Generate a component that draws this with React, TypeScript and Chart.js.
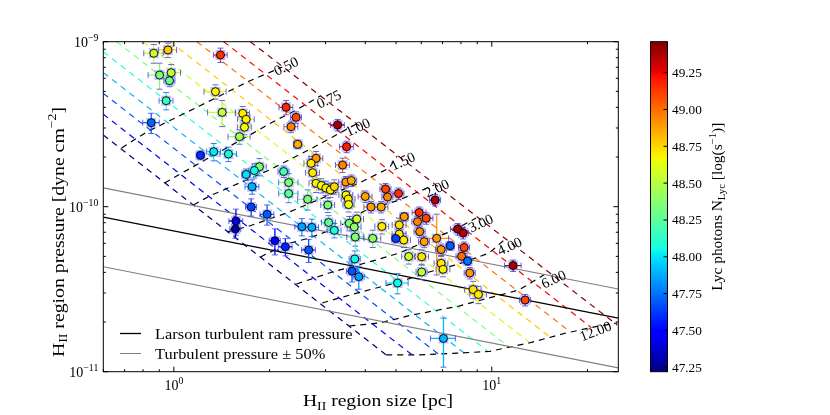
import React, { useEffect, useRef } from "react";
import { Chart, registerables } from "chart.js";

Chart.register(...registerables);

// ---------- observed HII regions ----------
// sizes in pc
const sizes = [
  0.865, 0.958, 1.402, 0.902, 0.981, 0.969, 0.946, 1.352, 0.849, 1.419,
  1.647, 1.688, 1.668, 1.609, 1.213, 1.335, 1.485, 2.254, 2.423, 2.337,
  2.452, 3.274, 3.494, 2.801, 2.701, 3.395, 2.733, 2.801, 2.91, 3.006,
  3.106, 3.197, 3.474, 3.615, 3.479, 3.537, 3.545, 1.859, 1.792, 1.688,
  1.763, 2.215, 2.297, 2.297, 2.636, 3.05, 1.751, 1.965, 1.568, 1.562,
  2.079, 2.243, 2.655, 2.527, 2.716, 3.068, 3.197, 3.563, 3.762, 3.694,
  3.721, 4.222, 4.513, 3.708, 3.634, 3.817, 5.053, 5.116, 5.116, 5.285,
  4.99, 5.48, 6.02, 6.02, 6.93, 7.03, 5.304, 5.912, 5.84, 6.22,
  5.934, 6.71, 6.13, 6.93, 7.4, 7.81, 8.125, 8.185, 8.04, 8.395,
  8.53, 8.735, 9.077, 11.67, 12.73, 7.047, 6.636, 5.09, 4.633, 4.7,
  4.0, 4.169, 4.489,
];
// pressures in units of 1e-10 dyne cm^-2
const pressures = [
  8.51, 8.91, 8.31, 6.28, 6.49, 5.8, 4.39, 4.98, 3.23, 3.73,
  3.68, 3.386, 3.03, 2.657, 2.049, 2.155, 2.086, 4.004, 3.48, 3.054,
  2.388, 3.127, 2.31, 1.965, 1.832, 1.789, 1.607, 1.386, 1.344, 1.298,
  1.263, 1.322, 1.411, 1.441, 1.177, 1.113, 1.031, 1.747, 1.657, 1.567,
  1.322, 1.634, 1.402, 1.202, 1.109, 1.024, 0.996, 0.899, 0.819, 0.732,
  0.622, 0.572, 0.5465, 0.756, 0.75, 0.802, 0.719, 0.793, 0.842, 0.753,
  0.655, 0.643, 0.759, 0.482, 0.4064, 0.3764, 0.3447, 0.775, 0.683, 0.628,
  0.642, 0.499, 0.4977, 0.402, 0.4539, 0.4175, 0.87, 0.922, 0.811, 0.851,
  0.706, 0.643, 0.6135, 0.55, 0.58, 0.732, 0.693, 0.566, 0.5005, 0.469,
  0.3964, 0.315, 0.2937, 0.44, 0.272, 0.159, 1.098, 1.202, 1.28, 1.145,
  1.153, 0.996, 0.996,
];
// log Lyman-continuum photon rate
const lycPhotons = [
  48.55, 48.78, 49.15, 48.36, 48.5, 48.3, 48.15, 48.68, 47.72, 48.52,
  48.7, 48.68, 48.65, 48.45, 47.6, 48.02, 48.05, 49.17, 49.08, 48.95,
  48.85, 49.4, 49.2, 48.9, 48.7, 48.95, 48.7, 48.68, 48.65, 48.7,
  48.68, 48.75, 48.9, 48.85, 48.68, 48.7, 48.65, 48.35, 48.05, 48.0,
  47.88, 48.18, 48.35, 48.25, 48.35, 48.35, 47.65, 47.7, 47.4, 47.3,
  47.5, 47.58, 47.7, 47.85, 47.88, 48.25, 48.08, 48.35, 48.55, 48.4,
  48.35, 48.4, 48.7, 48.05, 47.68, 47.85, 48.05, 48.72, 48.7, 48.7,
  47.65, 48.55, 48.72, 48.52, 48.7, 48.68, 48.88, 49.15, 48.95, 49.1,
  48.92, 48.9, 48.88, 48.9, 47.7, 49.38, 49.35, 49.1, 49.0, 47.75,
  48.9, 48.72, 48.7, 49.38, 49.1, 47.9, 49.38, 49.15, 49.1, 48.95,
  48.88, 48.88, 48.85,
];
// relative errors
const sizeErrFrac = [
  0.07, 0.065, 0.05, 0.08, 0.07, 0.04, 0.05, 0.08, 0.06, 0.1,
  0.05, 0.06, 0.05, 0.08, 0.03, 0.05, 0.06, 0.05, 0.04, 0.05,
  0.03, 0.05, 0.05, 0.05, 0.05, 0.05, 0.05, 0.05, 0.05, 0.05,
  0.05, 0.05, 0.05, 0.04, 0.05, 0.05, 0.04, 0.05, 0.04, 0.03,
  0.05, 0.04, 0.07, 0.07, 0.07, 0.05, 0.04, 0.05, 0.05, 0.04,
  0.04, 0.05, 0.05, 0.05, 0.05, 0.05, 0.05, 0.06, 0.05, 0.05,
  0.06, 0.06, 0.05, 0.04, 0.04, 0.04, 0.08, 0.05, 0.05, 0.05,
  0.03, 0.05, 0.05, 0.04, 0.05, 0.05, 0.03, 0.05, 0.04, 0.05,
  0.04, 0.09, 0.04, 0.04, 0.03, 0.05, 0.04, 0.04, 0.04, 0.03,
  0.04, 0.06, 0.06, 0.06, 0.04, 0.09, 0.04, 0.04, 0.04, 0.04,
  0.05, 0.05, 0.05,
];
const pressErrFrac = [
  0.13, 0.1, 0.1, 0.18, 0.12, 0.08, 0.12, 0.1, 0.14, 0.18,
  0.1, 0.1, 0.1, 0.1, 0.06, 0.12, 0.1, 0.1, 0.08, 0.08,
  0.06, 0.08, 0.08, 0.1, 0.1, 0.1, 0.1, 0.12, 0.1, 0.1,
  0.1, 0.1, 0.08, 0.08, 0.12, 0.12, 0.1, 0.12, 0.1, 0.08,
  0.1, 0.08, 0.13, 0.12, 0.14, 0.1, 0.12, 0.14, 0.18, 0.12,
  0.18, 0.12, 0.16, 0.12, 0.12, 0.1, 0.1, 0.1, 0.1, 0.1,
  0.12, 0.12, 0.1, 0.12, 0.14, 0.16, 0.14, 0.1, 0.1, 0.1,
  0.06, 0.1, 0.1, 0.1, 0.1, 0.1, 0.06, 0.08, 0.08, 0.08,
  0.08, 0.4, 0.08, 0.08, 0.06, 0.08, 0.08, 0.08, 0.08, 0.06,
  0.08, 0.12, 0.12, 0.08, 0.08, 0.33, 0.08, 0.08, 0.08, 0.08,
  0.08, 0.08, 0.08,
];

// ---------- turbulent pressure lines ----------
const larsonSize = [0.6, 25];
const larsonPressure = [0.865, 0.211];
const turbUpperPressure = [1.3, 0.317];
const turbLowerPressure = [0.433, 0.1055];

// ---------- constant-N_Lyc model lines (coloured dashed) ----------
const lycLineLevel = [0, 0.1, 0.2, 0.3, 0.4, 0.5, 0.6, 0.7, 0.8, 0.9, 1.0];
const lycLineStartSize = [0.6, 0.6, 0.6, 0.6, 0.6, 0.661, 0.802, 0.9736, 1.182, 1.435, 1.74];
const lycLineStartPressure = [2.72, 3.636, 4.86, 6.497, 8.686, 10, 10, 10, 10, 10, 10];
const lycLineEndSize = [4.656, 5.62, 6.782, 8.185, 9.737, 11.33, 13.19, 15.24, 17.69, 20.58, 24.8];
const lycLineEndPressure = [0.1263, 0.1263, 0.1281, 0.1298, 0.1326, 0.1411, 0.1497, 0.1623, 0.174, 0.1848, 0.1919];

// ---------- age contours (black dashed, Myr) ----------
const ageLabels = ["0.50", "0.75", "1.00", "1.50", "2.00", "3.00", "4.00", "6.00", "12.00"];
const ageContourSize = [
  [0.685, 0.821, 1.204, 1.729, 2.194],
  [0.935, 1.145, 1.464, 2.102, 2.429, 2.888],
  [1.153, 1.295, 1.609, 1.998, 2.727, 3.748],
  [1.475, 1.729, 2.309, 3.083, 3.83, 4.758, 5.041],
  [1.872, 2.259, 2.668, 3.243, 3.972, 5.116, 6.588],
  [2.429, 3.151, 4.331, 5.116, 6.355, 7.613, 8.927],
  [2.931, 3.314, 4.331, 5.116, 6.355, 7.895, 9.81, 10.93],
  [3.563, 4.426, 5.62, 7.895, 9.81, 12.18, 14.92],
  [4.656, 5.912, 7.895, 9.81, 13.1, 17.12, 21.73, 24.8],
];
const ageContourPressure = [
  [2.269, 2.836, 4.076, 5.779, 7.025],
  [1.392, 1.74, 2.269, 3.354, 3.855, 4.689],
  [1.024, 1.161, 1.392, 1.669, 2.269, 3.171],
  [0.703, 0.764, 0.929, 1.177, 1.392, 1.716, 2.029],
  [0.4955, 0.594, 0.646, 0.743, 0.942, 1.098, 1.354],
  [0.34, 0.402, 0.4753, 0.524, 0.628, 0.722, 0.854],
  [0.261, 0.28, 0.3216, 0.3497, 0.402, 0.4494, 0.524, 0.628],
  [0.1892, 0.1973, 0.2207, 0.25, 0.28, 0.3128, 0.3964],
  [0.1263, 0.1263, 0.1298, 0.1326, 0.1493, 0.1716, 0.1892, 0.1973],
];
const ageLabelSize = [2.259, 3.083, 3.8, 5.265, 6.735, 9.255, 11.41, 15.69, 21.26];
const ageLabelPressure = [7.025, 4.433, 3.0, 1.866, 1.28, 0.7855, 0.57, 0.3596, 0.174];
const ageLabelAngle = [-26, -25, -25, -25, -25, -25, -25, -24, -21];

// ---------- axes ----------
const xMajorTicks = [1, 10];
const xMajorExp = ["0", "1"];
const xMinorTicks = [0.6, 0.7, 0.8, 0.9, 2, 3, 4, 5, 6, 7, 8, 9, 20];
const yMajorTicks = [1e-11, 1e-10, 1e-9];
const yMajorExp = ["\u221211", "\u221210", "\u22129"];
const yMinorTicks = [2e-11, 3e-11, 4e-11, 5e-11, 6e-11, 7e-11, 8e-11, 9e-11, 2e-10, 3e-10, 4e-10, 5e-10, 6e-10, 7e-10, 8e-10, 9e-10];
const CB_MIN = 47.22;
const CB_MAX = 49.46;
const cbTicks = [47.25, 47.5, 47.75, 48.0, 48.25, 48.5, 48.75, 49.0, 49.25];

const FONT = '"Liberation Serif", "DejaVu Serif", serif';

type Seg = number[][];
const JET_R: Seg = [[0, 0], [0.35, 0], [0.66, 1], [0.89, 1], [1, 0.5]];
const JET_G: Seg = [[0, 0], [0.125, 0], [0.375, 1], [0.64, 1], [0.91, 0], [1, 0]];
const JET_B: Seg = [[0, 0.5], [0.11, 1], [0.34, 1], [0.65, 0], [1, 0]];
function segVal(s: Seg, t: number) {
  for (let i = 1; i < s.length; i++) {
    if (t <= s[i][0]) {
      const [x0, y0] = s[i - 1];
      const [x1, y1] = s[i];
      return y0 + ((y1 - y0) * (t - x0)) / (x1 - x0);
    }
  }
  return s[s.length - 1][1];
}
function jet(t: number, alpha = 1) {
  const u = Math.min(1, Math.max(0, t));
  const r = Math.round(segVal(JET_R, u) * 255);
  const g = Math.round(segVal(JET_G, u) * 255);
  const b = Math.round(segVal(JET_B, u) * 255);
  return `rgba(${r},${g},${b},${alpha})`;
}
const lycColor = (n: number) => jet((n - CB_MIN) / (CB_MAX - CB_MIN));

type Part = { t: string; s?: "sub" | "sup" };
function richWidth(ctx: CanvasRenderingContext2D, parts: Part[], size: number) {
  let w = 0;
  for (const p of parts) {
    ctx.font = `${p.s ? size * 0.7 : size}px ${FONT}`;
    w += ctx.measureText(p.t).width;
  }
  return w;
}
function drawRich(ctx: CanvasRenderingContext2D, parts: Part[], x: number, y: number, size: number, align: "left" | "center" | "right", sx = 1) {
  ctx.save();
  ctx.translate(x, y);
  ctx.scale(sx, 1);
  const w = richWidth(ctx, parts, size);
  let cx = align === "left" ? 0 : align === "center" ? -w / 2 : -w;
  ctx.textAlign = "left";
  ctx.textBaseline = "alphabetic";
  for (const p of parts) {
    const fs = p.s ? size * 0.7 : size;
    ctx.font = `${fs}px ${FONT}`;
    const dy = p.s === "sub" ? size * 0.22 : p.s === "sup" ? -size * 0.42 : 0;
    ctx.fillText(p.t, cx, dy);
    cx += ctx.measureText(p.t).width;
  }
  ctx.restore();
}

const xTitle: Part[] = [{ t: "H" }, { t: "II", s: "sub" }, { t: " region size [pc]" }];
const yTitle: Part[] = [{ t: "H" }, { t: "II", s: "sub" }, { t: " region pressure [dyne cm" }, { t: "\u22122", s: "sup" }, { t: "]" }];
const cbTitle: Part[] = [{ t: "Lyc photons N" }, { t: "Lyc", s: "sub" }, { t: " [log(s" }, { t: "\u22121", s: "sup" }, { t: ")]" }];

const decorPlugin = {
  id: "decor",
  beforeDatasetDraw(chart: any, args: any) {
    const ds = chart.data.datasets[args.index];
    if (ds.label !== "halo") return;
    const ctx: CanvasRenderingContext2D = chart.ctx;
    const xs = chart.scales.x;
    const ys = chart.scales.y;
    const a = chart.chartArea;
    ctx.save();
    ctx.beginPath();
    ctx.rect(a.left, a.top, a.right - a.left, a.bottom - a.top);
    ctx.clip();
    for (let i = 0; i < sizes.length; i++) {
      const R = sizes[i];
      const P = pressures[i] * 1e-10;
      const px = xs.getPixelForValue(R);
      const py = ys.getPixelForValue(P);
      const x0 = xs.getPixelForValue(R * (1 - sizeErrFrac[i]));
      const x1 = xs.getPixelForValue(R * (1 + sizeErrFrac[i]));
      const y0 = ys.getPixelForValue(P * (1 - pressErrFrac[i]));
      const y1 = ys.getPixelForValue(P * (1 + pressErrFrac[i]));
      const col = lycColor(lycPhotons[i]);
      ctx.strokeStyle = col;
      ctx.lineWidth = 1.3;
      ctx.beginPath();
      ctx.moveTo(x0, py);
      ctx.lineTo(x1, py);
      ctx.moveTo(px, y0);
      ctx.lineTo(px, y1);
      ctx.stroke();
      ctx.strokeStyle = "rgba(60,60,255,0.8)";
      ctx.lineWidth = 1;
      const c = 3;
      ctx.beginPath();
      ctx.moveTo(x0, py - c);
      ctx.lineTo(x0, py + c);
      ctx.moveTo(x1, py - c);
      ctx.lineTo(x1, py + c);
      ctx.moveTo(px - c, y0);
      ctx.lineTo(px + c, y0);
      ctx.moveTo(px - c, y1);
      ctx.lineTo(px + c, y1);
      ctx.stroke();
    }
    ctx.restore();
  },
  afterDraw(chart: any) {
    const ctx: CanvasRenderingContext2D = chart.ctx;
    const a = chart.chartArea;
    const xs = chart.scales.x;
    const ys = chart.scales.y;
    const cb = chart.scales.cb;
    ctx.save();
    ctx.fillStyle = "#000";

    // contour labels
    for (let i = 0; i < ageLabels.length; i++) {
      const px = xs.getPixelForValue(ageLabelSize[i]);
      const py = ys.getPixelForValue(ageLabelPressure[i] * 1e-10);
      ctx.save();
      ctx.translate(px, py);
      ctx.rotate((ageLabelAngle[i] * Math.PI) / 180);
      ctx.font = `14.5px ${FONT}`;
      ctx.textAlign = "center";
      ctx.textBaseline = "middle";
      ctx.fillText(ageLabels[i], 0, 0);
      ctx.restore();
    }

    // legend
    ctx.lineWidth = 1.3;
    ctx.strokeStyle = "#000";
    ctx.beginPath();
    ctx.moveTo(120, 333.5);
    ctx.lineTo(141, 333.5);
    ctx.stroke();
    ctx.lineWidth = 1;
    ctx.strokeStyle = "#808080";
    ctx.beginPath();
    ctx.moveTo(120, 353.5);
    ctx.lineTo(141, 353.5);
    ctx.stroke();
    ctx.fillStyle = "#000";
    drawRich(ctx, [{ t: "Larson turbulent ram pressure" }], 155, 338.5, 15.5, "left", 1.06);
    drawRich(ctx, [{ t: "Turbulent pressure \u00b1 50%" }], 155, 358.5, 15.5, "left", 1.06);

    // frame
    ctx.strokeStyle = "#000";
    ctx.lineWidth = 1;
    ctx.strokeRect(a.left, a.top, a.right - a.left, a.bottom - a.top);

    // ticks
    const line = (x1: number, y1: number, x2: number, y2: number) => {
      ctx.beginPath();
      ctx.moveTo(x1, y1);
      ctx.lineTo(x2, y2);
      ctx.stroke();
    };
    for (const v of xMajorTicks) {
      const p = xs.getPixelForValue(v);
      line(p, a.bottom, p, a.bottom - 5);
      line(p, a.top, p, a.top + 5);
    }
    for (const v of xMinorTicks) {
      const p = xs.getPixelForValue(v);
      line(p, a.bottom, p, a.bottom - 2.5);
      line(p, a.top, p, a.top + 2.5);
    }
    for (const v of yMajorTicks) {
      const p = ys.getPixelForValue(v);
      line(a.left, p, a.left + 5, p);
      line(a.right, p, a.right - 5, p);
    }
    for (const v of yMinorTicks) {
      const p = ys.getPixelForValue(v);
      line(a.left, p, a.left + 2.5, p);
      line(a.right, p, a.right - 2.5, p);
    }

    // tick labels
    xMajorTicks.forEach((v, i) => {
      const p = xs.getPixelForValue(v);
      drawRich(ctx, [{ t: "10" }, { t: xMajorExp[i], s: "sup" }], p, a.bottom + 18, 14, "center");
    });
    yMajorTicks.forEach((v, i) => {
      const p = ys.getPixelForValue(v);
      drawRich(ctx, [{ t: "10" }, { t: yMajorExp[i], s: "sup" }], a.left - 5, p + 5, 14, "right");
    });

    // axis titles
    drawRich(ctx, xTitle, 378, 406, 17.5, "center", 1.12);
    ctx.save();
    ctx.translate(63.5, 232);
    ctx.rotate(-Math.PI / 2);
    drawRich(ctx, yTitle, 0, 0, 17.5, "center", 1.13);
    ctx.restore();

    // colorbar
    const cbL = 650.5;
    const cbR = 667.5;
    const top = cb.getPixelForValue(CB_MAX);
    const bot = cb.getPixelForValue(CB_MIN);
    const grad = ctx.createLinearGradient(0, bot, 0, top);
    for (let k = 0; k <= 64; k++) grad.addColorStop(k / 64, jet(k / 64));
    ctx.fillStyle = grad;
    ctx.fillRect(cbL, top, cbR - cbL, bot - top);
    ctx.strokeStyle = "#000";
    ctx.lineWidth = 1;
    ctx.strokeRect(cbL, top, cbR - cbL, bot - top);
    ctx.fillStyle = "#000";
    for (const v of cbTicks) {
      const p = cb.getPixelForValue(v);
      line(cbR, p, cbR - 4, p);
      ctx.font = `13.3px ${FONT}`;
      ctx.textAlign = "left";
      ctx.textBaseline = "alphabetic";
      ctx.fillText(v.toFixed(2), cbR + 4.5, p + 4.5);
    }
    ctx.save();
    ctx.translate(722, (top + bot) / 2);
    ctx.rotate(-Math.PI / 2);
    drawRich(ctx, cbTitle, 0, 0, 14.5, "center", 1.06);
    ctx.restore();

    ctx.restore();
  },
};

export default function App() {
  const ref = useRef<HTMLCanvasElement | null>(null);
  useEffect(() => {
    if (!ref.current) return;
    const datasets: any[] = [];

    lycLineLevel.forEach((lv, i) => {
      datasets.push({
        label: `lyc${i}`,
        data: [
          { x: lycLineStartSize[i], y: lycLineStartPressure[i] * 1e-10 },
          { x: lycLineEndSize[i], y: lycLineEndPressure[i] * 1e-10 },
        ],
        showLine: true,
        borderColor: jet(lv),
        borderWidth: 1.2,
        borderDash: [6, 5],
        pointRadius: 0,
        fill: false,
        order: 6,
      });
    });

    ageLabels.forEach((lab, i) => {
      datasets.push({
        label: `age${lab}`,
        data: ageContourSize[i].map((r, j) => ({ x: r, y: ageContourPressure[i][j] * 1e-10 })),
        showLine: true,
        borderColor: "#000",
        borderWidth: 1.2,
        borderDash: [6, 5],
        pointRadius: 0,
        fill: false,
        order: 5,
      });
    });

    const lineSet = (label: string, ys: number[], color: string, w: number) => ({
      label,
      data: larsonSize.map((r, j) => ({ x: r, y: ys[j] * 1e-10 })),
      showLine: true,
      borderColor: color,
      borderWidth: w,
      pointRadius: 0,
      fill: false,
      order: 3,
    });
    datasets.push(lineSet("Larson turbulent ram pressure", larsonPressure, "#000", 1.3));
    datasets.push(lineSet("upper", turbUpperPressure, "#808080", 1.1));
    datasets.push(lineSet("lower", turbLowerPressure, "#808080", 1.1));

    const pts = sizes.map((r, i) => ({ x: r, y: pressures[i] * 1e-10 }));
    datasets.push({
      label: "halo",
      data: pts,
      pointStyle: "rect",
      pointRadius: 7,
      pointBackgroundColor: "rgba(100,100,255,0.4)",
      pointBorderWidth: 0,
      pointBorderColor: "rgba(0,0,0,0)",
      showLine: false,
      order: 1,
    });
    datasets.push({
      label: "regions",
      data: pts,
      pointStyle: "circle",
      pointRadius: 4,
      pointBackgroundColor: lycPhotons.map((n) => lycColor(n)),
      pointBorderColor: "#000",
      pointBorderWidth: 0.9,
      showLine: false,
      order: 0,
    });

    const chart = new Chart(ref.current, {
      type: "scatter",
      data: { datasets },
      options: {
        animation: false,
        responsive: false,
        events: [],
        layout: { padding: { left: 103.3, right: 211.7, top: 41.7, bottom: 43.3 } },
        plugins: { legend: { display: false }, tooltip: { enabled: false } },
        scales: {
          x: { type: "logarithmic", min: 0.6, max: 25, display: false },
          y: { type: "logarithmic", min: 1e-11, max: 1e-9, display: false },
          cb: { type: "linear", axis: "y", min: CB_MIN, max: CB_MAX, display: false },
        },
      } as any,
      plugins: [decorPlugin as any],
    });
    return () => chart.destroy();
  }, []);

  return (
    <div style={{ position: "fixed", left: 0, top: 0, width: 830, height: 415, background: "#fff" }}>
      <canvas ref={ref} width={830} height={415} style={{ display: "block", width: 830, height: 415 }} />
    </div>
  );
}
